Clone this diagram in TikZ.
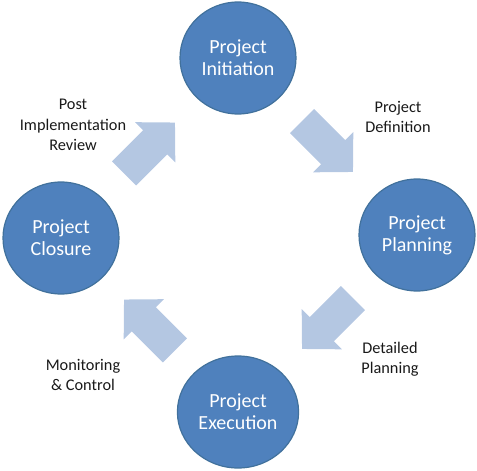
\documentclass[tikz,border=0pt]{standalone}
\usepackage{fontspec}
\setmainfont{Carlito}
\usetikzlibrary{shapes.geometric,calc}
\definecolor{phaseblue}{RGB}{79,129,189}
\definecolor{phaseedge}{RGB}{65,113,156}
\definecolor{flowblue}{RGB}{180,199,226}
\tikzset{
    phase/.style={ellipse,minimum width=116pt,minimum height=112pt,fill=phaseblue,draw=phaseedge,
        line width=1.2pt,text=white,align=center,font=\fontsize{20}{22}\selectfont},
    note/.style={align=center,text=black!90,font=\fontsize{16.3}{20.5}\selectfont},
    flow/.pic={\fill[flowblue] (-36,-17) -- (8,-17) -- (8,-28.5) -- (36,0) -- (8,28.5) -- (8,17) -- (-36,17) -- cycle;}
}
\begin{document}
\begin{tikzpicture}[x=1pt,y=-1pt]
    \useasboundingbox (0,0) rectangle (477,471);
    \node[phase] (init) at (238,58) {Project\\Initiation};
    \node[phase] (plan) at (417,235) {Project\\Planning};
    \node[phase] (exec) at (238,412) {Project\\Execution};
    \node[phase] (close) at (61,238) {Project\\Closure};
    \pic[rotate=-45] at ($(init)!0.5!(plan)$) {flow};
    \pic[rotate=-135] at ($(plan)!0.5!(exec)$) {flow};
    \pic[rotate=135] at ($(exec)!0.5!(close)$) {flow};
    \pic[rotate=45] at ($(close)!0.5!(init)$) {flow};
    \node[note] (definition) at (398,117) {Project\\Definition};
    \node[note] (review) at (73,125) {Post\\Implementation\\Review};
    \node[note] (detailed) at (390,359) {Detailed\\Planning};
    \node[note] (monitoring) at (83,375) {Monitoring\\\& Control};
\end{tikzpicture}
\end{document}
